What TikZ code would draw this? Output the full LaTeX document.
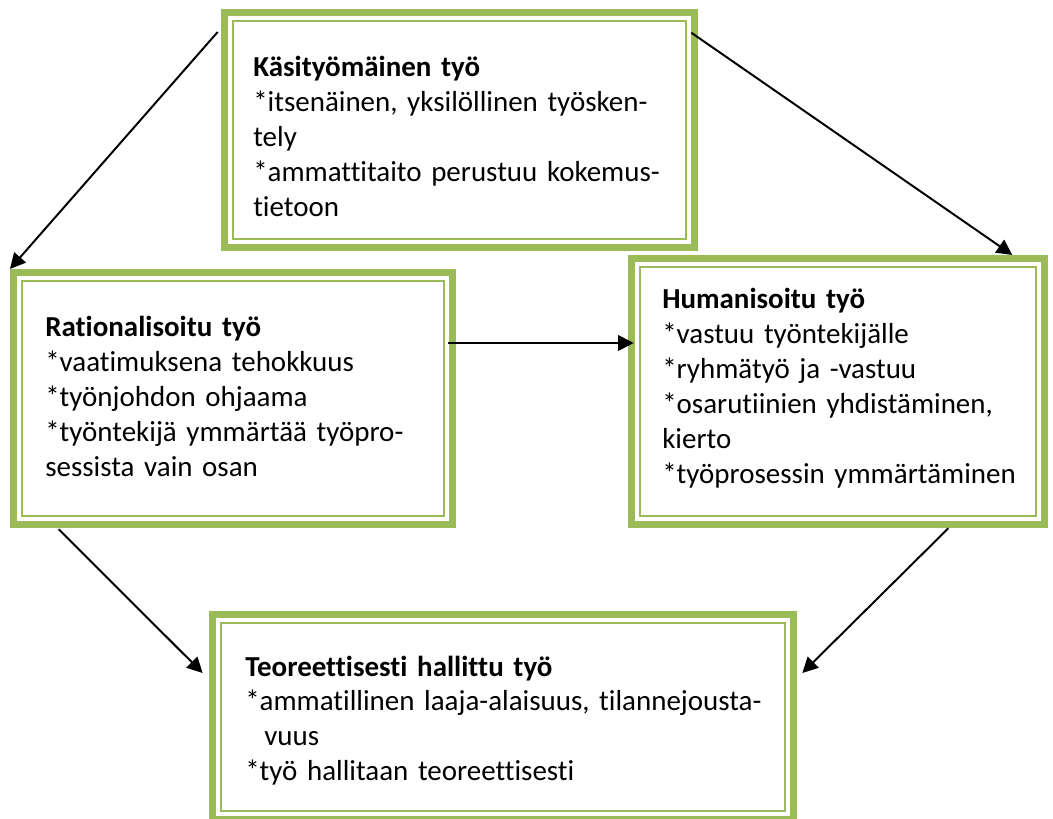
\documentclass[tikz,border=0pt]{standalone}
\usepackage{fontspec}
\setmainfont{Carlito}[Ligatures=NoCommon]
\usetikzlibrary{arrows.meta}
\definecolor{vihrea}{RGB}{155,187,89}

\begin{document}
\begin{tikzpicture}[x=0.025cm, y=-0.025cm,
  every node/.style={font=\fontsize{20.6}{24.75}\selectfont},
  kehys/.style={draw=vihrea, line width=5.3pt, inner sep=0pt, outer sep=0pt},
  ohut/.style={draw=vihrea, line width=1.6pt},
  teksti/.style={anchor=base west, align=left, text width=15cm, inner sep=0pt},
  nuoli/.style={-{Triangle[length=11pt, width=11pt]}, line width=1.4pt, black}]

  \useasboundingbox (0,0) rectangle (1053,819);

  % --- KEHYKSET ---
  \node[kehys, minimum width=11.7375cm, minimum height=5.8625cm] (kasi) at (459.5,130) {};
  \node[kehys, minimum width=10.9625cm, minimum height=6.2875cm] (rat) at (233,398.5) {};
  \node[kehys, minimum width=10.3125cm, minimum height=6.6375cm] (hum) at (838,391.5) {};
  \node[kehys, minimum width=14.5125cm, minimum height=5.1125cm] (teo) at (503,717) {};

  % ohut sisäviiva
  \foreach \n in {kasi,rat,hum,teo}
    \draw[ohut] ([shift={(8.2,8.2)}]\n.north west) rectangle ([shift={(-8.2,-8.2)}]\n.south east);

  % --- TEKSTIT ---
  \node[teksti] (kasiT) at (253,77) {
    \textbf{Käsityömäinen työ}\\
    {*}itsenäinen, yksilöllinen työsken-\\
    tely\\
    {*}ammattitaito perustuu kokemus-\\
    tietoon
  };

  \node[teksti] (ratT) at (45,337) {
    \textbf{Rationalisoitu työ}\\
    {*}vaatimuksena tehokkuus\\
    {*}työnjohdon ohjaama\\
    {*}työntekijä ymmärtää työpro-\\
    sessista vain osan
  };

  \node[teksti] (humT) at (662,309) {
    \textbf{Humanisoitu työ}\\
    {*}vastuu työntekijälle\\
    {*}ryhmätyö ja -vastuu\\
    {*}osarutiinien yhdistäminen,\\
    kierto\\
    {*}työprosessin ymmärtäminen
  };

  \node[teksti] (teoT) at (245,676) {
    \textbf{Teoreettisesti hallittu työ}\\
    {*}ammatillinen laaja-alaisuus, tilannejousta-\\
    \hspace*{13.5pt}vuus\\
    {*}työ hallitaan teoreettisesti
  };

  % --- NUOLET ---
  \draw[nuoli] ([shift={(-7,19.25)}]kasi.north west) -- ([shift={(-3.75,-3.75)}]rat.north west);
  \draw[nuoli] ([shift={(-3,20)}]kasi.north east) -- ([shift={(-32,-3.75)}]hum.north east);
  \draw[nuoli] ([shift={(-4,-55.5)}]rat.east) -- ([shift={(2,-48.5)}]hum.west);
  \draw[nuoli] ([shift={(45,5)}]rat.south west) -- ([shift={(-10,-44)}]teo.west);
  \draw[nuoli] ([shift={(-96,4)}]hum.south east) -- ([shift={(9,-44)}]teo.east);

\end{tikzpicture}
\end{document}
